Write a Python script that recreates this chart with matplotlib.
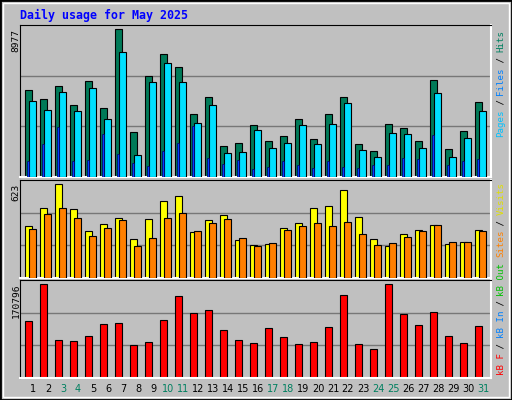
import numpy as np
import matplotlib.pyplot as plt
from matplotlib.patches import Rectangle

days = list(range(1, 32))
weekend = [3, 4, 10, 11, 17, 18, 24, 25, 31]

hits = [5260, 4712, 5504, 4346, 5809, 4164, 8977, 2762, 6113, 7454, 6662, 3859, 4834, 1909, 2092, 3189,
        2214, 2518, 3554, 2336, 3859, 4834, 2031, 1604, 3250, 3006, 2214, 5870, 1726, 2823, 4529]
files = [4590, 4042, 5138, 3981, 5382, 3554, 7576, 1361, 5748, 6905, 5748, 3311, 4346, 1483, 1544, 2884,
         1787, 2092, 3189, 2031, 3250, 4468, 1665, 1239, 2701, 2640, 1787, 5078, 1239, 2397, 3981]
pages = [995, 2031, 3067, 995, 1056, 2640, 1422, 873, 691, 1604, 2092, 3128, 1178, 812, 1056, 508,
         630, 995, 751, 569, 995, 630, 569, 751, 751, 1178, 1117, 2579, 751, 995, 1117]
visits = [345, 467, 623, 460, 311, 359, 399, 257, 393, 515, 542, 305, 386, 420, 251, 217,
          223, 332, 366, 467, 481, 582, 406, 257, 210, 291, 318, 352, 223, 237, 318]
sites = [325, 427, 467, 399, 278, 332, 386, 210, 264, 399, 433, 311, 366, 393, 264, 210,
         230, 318, 345, 366, 345, 372, 291, 217, 230, 271, 311, 352, 237, 237, 311]
kbytes = [103470, 170796, 69810, 67940, 77290, 97860, 99730, 60460, 66070, 105340, 150220, 118430,
          124040, 86640, 69810, 64200, 90380, 75420, 62330, 66070, 92250, 152090, 62330, 52980,
          170796, 116560, 95990, 120300, 77290, 64200, 94120]

W, H = 512, 400
fig = plt.figure(figsize=(5.12, 4.0), dpi=100, facecolor='#c0c0c0')
mono = 'DejaVu Sans Mono'

# outer bevel
fig.add_artist(Rectangle((0, 0), 1, 1, transform=fig.transFigure, fill=False, edgecolor='black', lw=2))
fig.add_artist(Rectangle((3/W, 3/H), 1-6/W, 1-6/H, transform=fig.transFigure, fill=False, edgecolor='white', lw=1))

def panel(top, bottom):
    ax = fig.add_axes([20/W, 1-bottom/H, 471/W, (bottom-top)/H])
    ax.set_facecolor('#c0c0c0')
    ax.set_xlim(-5.3/15, (491-25.3)/15)
    for s in ['top', 'left']:
        ax.spines[s].set_color('black')
    for s in ['bottom', 'right']:
        ax.spines[s].set_color('white')
        ax.spines[s].set_linewidth(1.5)
    ax.set_xticks([])
    ax.set_yticks([])
    return ax

x = np.arange(31)
bw = 7/15
off = 4/15

def grid(ax, top):
    ax.set_ylim(0, top)
    for f in (1/3, 2/3):
        ax.axhline(top*f, color='#777777', lw=1, zorder=0)

ax1 = panel(25, 177)
grid(ax1, max(hits)*152/147.7)
ax1.bar(x, hits, width=bw, align='edge', color='#007a58', edgecolor='black', lw=0.8, zorder=2)
ax1.bar(x+off, files, width=bw, align='edge', color='#00e0ff', edgecolor='black', lw=0.8, zorder=3)
ax1.bar(x+0.11, pages, width=0.15, align='edge', color='#0040ff', edgecolor='#000060', lw=0.5, zorder=4)

ax2 = panel(180, 278)
grid(ax2, max(visits)*98/93.7)
ax2.bar(x, visits, width=bw, align='edge', color='#ffff00', edgecolor='black', lw=0.8, zorder=2)
ax2.bar(x+off, sites, width=bw, align='edge', color='#ff8000', edgecolor='black', lw=0.8, zorder=3)

ax3 = panel(280, 378)
grid(ax3, max(kbytes)*98/93.7)
ax3.bar(x, kbytes, width=bw, align='edge', color='#ff0000', edgecolor='black', lw=0.8, zorder=2)

# title
fig.text(20/W, 1-15/H, 'Daily usage for May 2025', family=mono, weight='bold', fontsize=8.4,
         color='#0000ff', va='center', ha='left')

# max labels
for ytop, s in [(29, '8977'), (184, '623'), (284, '170796')]:
    fig.text(16/W, 1-ytop/H, s, family=mono, fontsize=6.8, rotation=90, va='top', ha='center')

# day labels
for d in days:
    xp = 25.3 + (d-1)*15 + 7.7
    fig.text(xp/W, 1-389/H, str(d), fontsize=7, family='DejaVu Sans',
             color='#008060' if d in weekend else 'black', ha='center', va='center')

# right legends
cw = 5.3
def legend(ybot, parts):
    y = ybot
    for txt, col in parts:
        n = len(txt)
        fig.text(501/W, 1-y/H, txt, family=mono, fontsize=6.6, rotation=90,
                 color=col, ha='center', va='bottom')
        y -= n*cw

legend(137, [('Pages', '#00c0ff'), (' / ', 'black'), ('Files', '#0080ff'),
             (' / ', 'black'), ('Hits', '#008060')])
legend(257, [('Sites', '#ff8000'), (' / ', 'black'), ('Visits', '#e0e000')])
legend(375, [('kB F', '#ff0000'), (' / ', 'black'), ('kB In', '#0080ff'),
             (' / ', 'black'), ('kB Out', '#00c000')])

fig.savefig('out.png', dpi=100, facecolor='#c0c0c0')
